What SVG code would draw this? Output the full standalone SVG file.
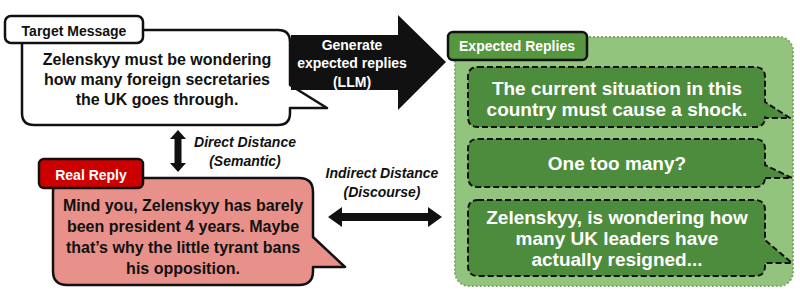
<svg xmlns="http://www.w3.org/2000/svg" width="800" height="300" viewBox="0 0 800 300">
<style>
text{font-family:"Liberation Sans",Arial,sans-serif;font-weight:bold;text-anchor:middle}
.bub{stroke:#111;stroke-width:2.5;stroke-linejoin:round}
.g{fill:#4d8c3c;stroke:#111;stroke-width:2;stroke-dasharray:6 3;stroke-linejoin:round}
.wt{fill:#fff}
.bk{fill:#111}
.it{font-style:italic;font-size:14px;fill:#111}
.lab{font-size:14px}
</style>
<rect width="800" height="300" fill="#fff"/>
<g id="target">
<path class="bub" fill="#fff" d="M34 30H278Q290 30 290 42V85L327 108L290 108V113Q290 125 278 125H34Q22 125 22 113V42Q22 30 34 30Z"/>
<rect class="bub" x="5" y="16" width="138" height="27" rx="6" fill="#fff"/>
<text class="lab bk" x="74" y="36">Target Message</text>
<text class="bk" font-size="16" x="157" y="65">Zelenskyy must be wondering</text>
<text class="bk" font-size="16" x="157" y="85">how many foreign secretaries</text>
<text class="bk" font-size="16" x="157" y="105">the UK goes through.</text>
</g>
<g id="expected">
<rect x="455" y="37" width="338" height="249" rx="14" fill="#93c47d" stroke="#7aa868" stroke-width="2" stroke-dasharray="2 2"/>
<rect class="bub" x="448" y="32" width="139" height="28" rx="5" fill="#56963f" stroke-width="2"/>
<text class="lab wt" x="517" y="51">Expected Replies</text>
</g>
<g id="reply1">
<path class="g" d="M478 67H755Q765 67 765 77V102L790 118L765 118V117Q765 127 755 127H478Q468 127 468 117V77Q468 67 478 67Z"/>
<text class="wt" font-size="19" x="617" y="95">The current situation in this</text>
<text class="wt" font-size="19" x="617" y="116">country must cause a shock.</text>
</g>
<g id="reply2">
<path class="g" d="M478 139H755Q765 139 765 149V165L792 178L765 178V177Q765 187 755 187H478Q468 187 468 177V149Q468 139 478 139Z"/>
<text class="wt" font-size="19" x="617" y="170">One too many?</text>
</g>
<g id="reply3">
<path class="g" d="M478 200H755Q765 200 765 210V240L792 263L765 263V266Q765 276 755 276H478Q468 276 468 266V210Q468 200 478 200Z"/>
<text class="wt" font-size="19" x="617" y="224">Zelenskyy, is wondering how</text>
<text class="wt" font-size="19" x="617" y="245">many UK leaders have</text>
<text class="wt" font-size="19" x="617" y="266">actually resigned...</text>
</g>
<g id="real">
<path class="bub" fill="#e8918b" d="M67 178H299Q313 178 313 192V237L345 267L313 267V271Q313 285 299 285H67Q53 285 53 271V192Q53 178 67 178Z"/>
<rect class="bub" x="39" y="159" width="104" height="29" rx="5" fill="#cc0000" stroke-width="2"/>
<text class="lab wt" x="91" y="180">Real Reply</text>
<text class="bk" font-size="16" x="183" y="211">Mind you, Zelenskyy has barely</text>
<text class="bk" font-size="16" x="183" y="232">been president 4 years. Maybe</text>
<text class="bk" font-size="16" x="183" y="253">that’s why the little tyrant bans</text>
<text class="bk" font-size="16" x="183" y="274">his opposition.</text>
</g>
<g id="connectors">
<polygon class="bk" points="291,35 398,35 398,15 446,62 398,110 398,90 291,90"/>
<text class="lab wt" x="352" y="50">Generate</text>
<text class="lab wt" x="352" y="68">expected replies</text>
<text class="lab wt" x="352" y="87">(LLM)</text>
<polygon class="bk" points="178,130 186,139 181.5,139 181.5,163 186,163 178,172 170,163 174.5,163 174.5,139 170,139"/>
<text class="it" x="245" y="147">Direct Distance</text>
<text class="it" x="245" y="166">(Semantic)</text>
<polygon class="bk" points="328,217 342,207 342,213 428,213 428,207 442,217 428,227 428,221 342,221 342,227"/>
<text class="it" x="382" y="178">Indirect Distance</text>
<text class="it" x="382" y="197">(Discourse)</text>
</g>
</svg>
